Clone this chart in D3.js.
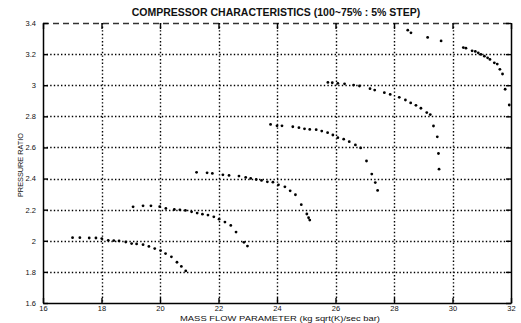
<!DOCTYPE html>
<html>
<head>
<meta charset="utf-8">
<script src="https://cdn.jsdelivr.net/npm/d3@7"></script>
<style>
  html, body { margin: 0; padding: 0; background: #fff; }
  svg { display: block; }
</style>
</head>
<body>
<svg id="chart" width="521" height="323"></svg>
<script>
// ---- data ----
const titleText = "COMPRESSOR CHARACTERISTICS (100~75% : 5% STEP)";
const xLabelText = "MASS FLOW PARAMETER (kg sqrt(K)/sec bar)";
const yLabelText = "PRESSURE RATIO";
const xTicks = [16, 18, 20, 22, 24, 26, 28, 30, 32];
const yTicks = [1.6, 1.8, 2.0, 2.2, 2.4, 2.6, 2.8, 3.0, 3.2, 3.4];

const speed75x = [17.01, 17.26, 17.58, 17.81, 18.01, 18.23, 18.42, 18.60, 18.83, 19.03, 19.20, 19.42, 19.62, 19.82, 20.02, 20.19, 20.39, 20.58, 20.73, 20.88];
const speed75y = [2.020, 2.020, 2.018, 2.018, 2.014, 2.003, 2.001, 1.999, 1.992, 1.982, 1.980, 1.975, 1.964, 1.950, 1.937, 1.918, 1.897, 1.862, 1.835, 1.806];

const speed80x = [19.08, 19.42, 19.69, 19.99, 20.20, 20.49, 20.68, 20.87, 21.08, 21.27, 21.45, 21.64, 21.84, 22.02, 22.22, 22.42, 22.60, 22.87, 22.99];
const speed80y = [2.218, 2.225, 2.225, 2.219, 2.208, 2.201, 2.199, 2.195, 2.186, 2.178, 2.171, 2.165, 2.154, 2.139, 2.120, 2.099, 2.056, 1.990, 1.966];

const speed85x = [21.25, 21.61, 21.79, 22.15, 22.36, 22.70, 22.93, 23.10, 23.29, 23.47, 23.67, 23.86, 24.05, 24.27, 24.45, 24.63, 24.83, 25.02, 25.08, 25.12];
const speed85y = [2.440, 2.437, 2.433, 2.424, 2.420, 2.416, 2.407, 2.401, 2.394, 2.388, 2.379, 2.377, 2.360, 2.347, 2.321, 2.296, 2.232, 2.172, 2.148, 2.133];

const speed90x = [23.78, 24.00, 24.17, 24.54, 24.75, 24.94, 25.12, 25.34, 25.53, 25.73, 25.91, 26.08, 26.28, 26.47, 26.68, 26.86, 27.06, 27.24, 27.36, 27.44];
const speed90y = [2.748, 2.739, 2.739, 2.733, 2.727, 2.720, 2.716, 2.714, 2.705, 2.695, 2.680, 2.663, 2.653, 2.637, 2.616, 2.597, 2.513, 2.429, 2.374, 2.324];

const speed95x = [25.74, 25.89, 26.08, 26.31, 26.62, 26.82, 27.18, 27.34, 27.67, 27.87, 28.18, 28.39, 28.57, 28.75, 28.92, 29.12, 29.24, 29.35, 29.48, 29.52, 29.54];
const speed95y = [3.018, 3.016, 3.012, 3.009, 3.001, 2.995, 2.978, 2.969, 2.952, 2.941, 2.922, 2.905, 2.886, 2.871, 2.852, 2.824, 2.811, 2.738, 2.668, 2.561, 2.460];

const speed100x = [28.47, 28.58, 29.15, 29.61, 30.37, 30.46, 30.67, 30.78, 30.88, 30.97, 31.09, 31.20, 31.28, 31.43, 31.53, 31.62, 31.71, 31.80, 31.94];
const speed100y = [3.354, 3.337, 3.307, 3.285, 3.242, 3.238, 3.221, 3.217, 3.208, 3.198, 3.187, 3.176, 3.166, 3.144, 3.136, 3.102, 3.072, 2.974, 2.873];

const seriesX = [speed75x, speed80x, speed85x, speed90x, speed95x, speed100x];
const seriesY = [speed75y, speed80y, speed85y, speed90y, speed95y, speed100y];

// ---- layout ----
const L = 43, R = 511, T = 23, B = 303;
const FONT = "'Liberation Sans', Arial, sans-serif";
const svg = d3.select("#chart");
const x = d3.scaleLinear().domain([16, 32]).range([L, R]);
const y = d3.scaleLinear().domain([1.6, 3.4]).range([B, T]);
const fmt = d => String(+d.toFixed(1));
const px = v => Math.round(v) + 0.5;

// dotted grid
svg.selectAll(null).data(xTicks.slice(1, -1)).join("line")
  .attr("x1", d => px(x(d))).attr("x2", d => px(x(d))).attr("y1", T).attr("y2", B)
  .attr("stroke", "black").attr("stroke-width", 1.4).attr("stroke-dasharray", "1.4,2.2");
svg.selectAll(null).data(yTicks.slice(1, -1)).join("line")
  .attr("y1", d => px(y(d))).attr("y2", d => px(y(d))).attr("x1", L).attr("x2", R)
  .attr("stroke", "black").attr("stroke-width", 1.4).attr("stroke-dasharray", "1.4,2.2");

// frame: top (dashed, faded in the scan), then axes
svg.append("line").attr("x1", L).attr("x2", R).attr("y1", T + 0.5).attr("y2", T + 0.5)
  .attr("stroke", "#333").attr("stroke-width", 1.3).attr("stroke-dasharray", "6,4");

const axB = svg.append("g").attr("transform", `translate(0,${B})`)
  .call(d3.axisBottom(x).tickValues(xTicks).tickSizeInner(-5).tickSizeOuter(0).tickPadding(3).tickFormat(fmt));
const axT = svg.append("g").attr("transform", `translate(0,${T})`)
  .call(d3.axisTop(x).tickValues(xTicks).tickSizeInner(-6).tickSizeOuter(0).tickFormat(""));
const axL = svg.append("g").attr("transform", `translate(${L},0)`)
  .call(d3.axisLeft(y).tickValues(yTicks).tickSizeInner(-5).tickSizeOuter(0).tickPadding(7).tickFormat(fmt));
const axR = svg.append("g").attr("transform", `translate(${R},0)`)
  .call(d3.axisRight(y).tickValues(yTicks).tickSizeInner(-5).tickSizeOuter(0).tickFormat(""));
axT.select("path.domain").remove();
[axB, axL, axR].forEach(a => a.select("path.domain").attr("stroke", "black").attr("stroke-width", 1.5));
[axB, axT, axL, axR].forEach(a => {
  a.selectAll(".tick line").attr("stroke", "black").attr("stroke-width", 1.4);
  a.selectAll("text").attr("font-size", 7.5).attr("fill", "#111").attr("font-family", FONT);
});
axB.selectAll("text").attr("dy", "0.6em");

// points
const pts = svg.append("g");
seriesX.forEach((xs, i) => {
  const ys = seriesY[i];
  pts.selectAll(null).data(xs.map((v, j) => [v, ys[j]])).join("circle")
    .attr("cx", d => x(d[0])).attr("cy", d => y(d[1])).attr("r", 1.4).attr("fill", "black");
});

// title and labels
svg.append("text").attr("x", 276).attr("y", 16).attr("text-anchor", "middle")
  .attr("font-family", FONT).attr("fill", "#111")
  .attr("font-size", 10.5).attr("font-weight", "bold").text(titleText);
svg.append("text").attr("x", 280).attr("y", 321).attr("text-anchor", "middle")
  .attr("font-family", FONT).attr("fill", "#111")
  .attr("font-size", 7.5).attr("textLength", 200).attr("lengthAdjust", "spacingAndGlyphs").text(xLabelText);
svg.append("text").attr("transform", "translate(23,165) rotate(-90)").attr("text-anchor", "middle")
  .attr("font-family", FONT).attr("fill", "#111")
  .attr("font-size", 8).attr("textLength", 64).attr("lengthAdjust", "spacingAndGlyphs").text(yLabelText);
</script>
</body>
</html>
